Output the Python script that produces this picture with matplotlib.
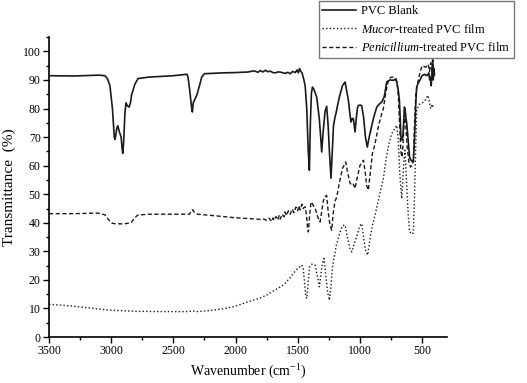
import numpy as np
import matplotlib
matplotlib.use("Agg")
import matplotlib.pyplot as plt
from matplotlib.ticker import MultipleLocator

# Espectros FTIR (numero de onda, transmitancia)

wn_blanco = [3500, 3300, 3100, 3050, 3030, 3010, 2990, 2975, 2969, 2955, 2947, 2935, 2920, 2912,
             2907, 2900, 2890, 2881, 2870, 2856, 2845, 2835, 2827, 2810, 2784, 2700, 2500, 2390,
             2382, 2370, 2355, 2347, 2340, 2331, 2312, 2290, 2272, 2250, 2100, 2000, 1900, 1850,
             1820, 1800, 1780, 1760, 1740, 1720, 1700, 1680, 1660, 1643, 1600, 1580, 1560, 1540,
             1520, 1505, 1495, 1485, 1475, 1465, 1450, 1440, 1427, 1415, 1406, 1398, 1390, 1382,
             1370, 1355, 1347, 1336, 1326, 1315, 1307, 1295, 1280, 1267, 1255, 1245, 1232, 1222,
             1212, 1200, 1192, 1180, 1165, 1140, 1119, 1105, 1092, 1080, 1071, 1062, 1052, 1045,
             1039, 1030, 1020, 1012, 995, 985, 970, 955, 940, 925, 904, 885, 864, 845, 824, 805,
             797, 784, 760, 730, 715, 703, 690, 682, 675, 671, 663, 655, 648, 642, 637, 630, 623,
             610, 600, 590, 580, 570, 560, 550, 543, 530, 516, 500, 480, 460, 445, 438, 432, 426,
             420, 415, 410, 405, 400]
t_blanco = [91.5, 91.4, 91.7, 91.5, 90.5, 88, 80, 70, 69.2, 73, 74, 72, 70, 66,
            64.3, 68, 78, 82, 81, 80.5, 82, 85, 86, 88.5, 90.5, 91, 91.5, 92,
            91, 87, 81, 78.8, 82, 82.9, 84.6, 88, 91, 92.2, 92.5, 92.6, 92.8, 93.2,
            92.7, 93.3, 92.8, 93.4, 92.9, 93.1, 92.6, 92.5, 92.8, 92.8, 92.3, 92.7, 92.2, 93.0,
            92.6, 93.5, 92.5, 94, 93, 92.5, 90, 88, 80, 65, 58.4, 75, 85, 87.5,
            86.8, 85, 84, 80, 76.4, 70, 64.8, 72, 79, 80.8, 74, 65, 55.6, 65,
            74, 77, 78.3, 81, 84, 88, 89.3, 86, 82.9, 78, 75.3, 76.5, 76.5, 74,
            71.8, 76, 80, 81.1, 81.2, 81, 77, 70, 66.5, 70, 74.1, 77.5, 80.5, 81.5, 82.3, 84,
            85.8, 89.3, 90, 89.9, 90.3, 89.3, 86, 82.9, 76, 70.6, 69, 70, 75, 80.5, 80, 77, 74.8,
            68, 63, 62, 61.5, 61.3, 70, 82, 87.5, 89, 90, 91.5, 92, 91.5, 92.5, 90, 91, 88,
            93, 97, 90, 94, 92]

wn_mucor = [3500, 3300, 3100, 3009, 2800, 2553, 2400, 2340, 2300, 2200, 2100, 2018, 1900, 1800,
            1749, 1700, 1615, 1560, 1535, 1500, 1467, 1455, 1445, 1435, 1427, 1418, 1405, 1387,
            1360, 1345, 1326, 1310, 1300, 1288, 1275, 1260, 1245, 1232, 1222, 1213, 1190, 1165,
            1140, 1119, 1100, 1080, 1065, 1050, 1020, 1000, 985, 970, 955, 937, 920, 900, 878,
            850, 830, 811, 790, 770, 744, 720, 703, 690, 680, 670, 663, 655, 645, 637, 630, 620,
            610, 600, 585, 570, 560, 550, 543, 520, 500, 480, 460, 451, 440, 430, 420, 410, 400]
t_mucor = [11.5, 10.8, 9.8, 9.4, 9, 8.9, 8.9, 9.1, 8.9, 9.3, 9.9, 10.6, 12.3, 13.7,
           14.7, 16, 18.2, 20.8, 22.3, 24, 25.2, 24, 19, 14.5, 13.5, 18, 24.5, 25.5,
           25.2, 22, 17.6, 23, 26, 27.5, 22, 16, 12.9, 18, 24, 26.3, 32, 36,
           39, 39.2, 35, 31, 29.8, 32, 36, 39, 39.7, 35, 30.5, 28.7, 34, 39, 42.7,
           48, 52, 55.5, 62, 67, 71.2, 73, 74.1, 68, 58, 52, 48.5, 55, 62, 65.4, 60, 50,
           42, 37, 36, 36.5, 50, 68, 79.4, 81.5, 82, 82.5, 84, 84.6, 82, 80, 81.5, 80.5, 81]

wn_penic = [3500, 3300, 3108, 3050, 3028, 3000, 2975, 2900, 2840, 2815, 2787, 2700, 2500, 2371,
            2355, 2344, 2330, 2304, 2200, 2100, 2012, 1900, 1800, 1771, 1750, 1730, 1710, 1700,
            1690, 1675, 1660, 1650, 1640, 1625, 1610, 1602, 1590, 1575, 1560, 1545, 1530, 1515,
            1500, 1490, 1480, 1465, 1455, 1441, 1430, 1420, 1414, 1405, 1395, 1387, 1375, 1361,
            1345, 1330, 1320, 1310, 1295, 1285, 1267, 1255, 1240, 1226, 1215, 1200, 1186, 1165,
            1140, 1114, 1100, 1080, 1065, 1052, 1039, 1020, 1000, 971, 955, 945, 932, 915, 900,
            878, 850, 825, 811, 790, 770, 750, 730, 710, 700, 690, 680, 670, 662, 655, 645, 638,
            630, 620, 605, 592, 580, 570, 560, 550, 540, 520, 500, 470, 450, 440, 430, 420, 412,
            405, 400]
t_penic = [43.2, 43.2, 43.4, 42.8, 41.5, 40, 39.7, 39.6, 40, 41.5, 42.7, 43, 43, 43,
           44, 44.6, 43.5, 43, 42.6, 42.2, 41.8, 41.5, 41.2, 41.3, 40.8, 41.6, 40.5, 41.7,
           40.8, 42.2, 41, 42.5, 41.3, 43.0, 42.1, 43.8, 42.5, 44.2, 43, 44.8, 43.5, 45.5,
           44.2, 46, 44.5, 46.5, 45, 45.6, 43, 38, 36.8, 42, 46.5, 47.3, 46, 45.3,
           43, 41, 40.3, 43, 47.5, 49, 49.6, 44, 39, 37.4, 43, 47.5, 49, 54,
           59, 61.3, 58, 54, 53.1, 53.5, 52, 56, 60, 61.9, 57, 53, 51.4, 58, 64,
           67.7, 74, 78, 80, 86, 90, 91, 91, 90.5, 89, 84, 74, 65, 63, 66, 74, 78,
           74, 67, 61, 59.5, 60, 62, 75, 85, 88, 92, 95, 94.5, 95.5, 93, 96, 93, 97,
           91, 93]

etiquetas = ["PVC Blank", r"$\mathit{Mucor}$-treated PVC film",
             r"$\mathit{Penicillium}$-treated PVC film"]

# Fuentes tipo Times

plt.rcParams["font.family"] = "Liberation Serif"
plt.rcParams["mathtext.fontset"] = "custom"
plt.rcParams["mathtext.rm"] = "Liberation Serif"
plt.rcParams["mathtext.it"] = "Liberation Serif:italic"

fig = plt.figure(figsize=(5.27, 3.83), dpi=100)
ax = fig.add_axes([0.093, 0.120, 0.755, 0.783])

color = "#1a1a1a"
l1, = ax.plot(wn_blanco, t_blanco, color=color, lw=1.2, ls="-")
l2, = ax.plot(wn_mucor, t_mucor, color=color, lw=1.0, ls=(0, (1, 1.6)))
l3, = ax.plot(wn_penic, t_penic, color=color, lw=1.0, ls=(0, (3, 1.8)))

ax.set_xlim(3500, 300)
ax.set_ylim(0, 105)
ax.set_xticks([3500, 3000, 2500, 2000, 1500, 1000, 500])
ax.set_yticks(np.arange(0, 101, 10))
ax.xaxis.set_minor_locator(MultipleLocator(250))
ax.yaxis.set_minor_locator(MultipleLocator(5))
ax.tick_params(which="major", direction="out", length=4, width=1, labelsize=8.5, pad=2)
ax.tick_params(which="minor", direction="out", length=2.5, width=1)

for lado in ["top", "right"]:
    ax.spines[lado].set_visible(False)
for lado in ["left", "bottom"]:
    ax.spines[lado].set_linewidth(1.2)

ax.set_xlabel(r"Wavenumber (cm$^{-1}$)", fontsize=10, labelpad=4)
ax.set_ylabel("Transmittance  (%)", fontsize=11, labelpad=5)

leg = fig.legend([l1, l2, l3], etiquetas, loc="upper right", bbox_to_anchor=(0.975, 0.997),
                 fontsize=9, frameon=True, fancybox=False, handlelength=2.7,
                 handletextpad=0.4, labelspacing=0.45, borderpad=0.3, borderaxespad=0)
leg.get_frame().set_edgecolor("#555555")
leg.get_frame().set_linewidth(1.0)

fig.savefig("out.png", dpi=100)
